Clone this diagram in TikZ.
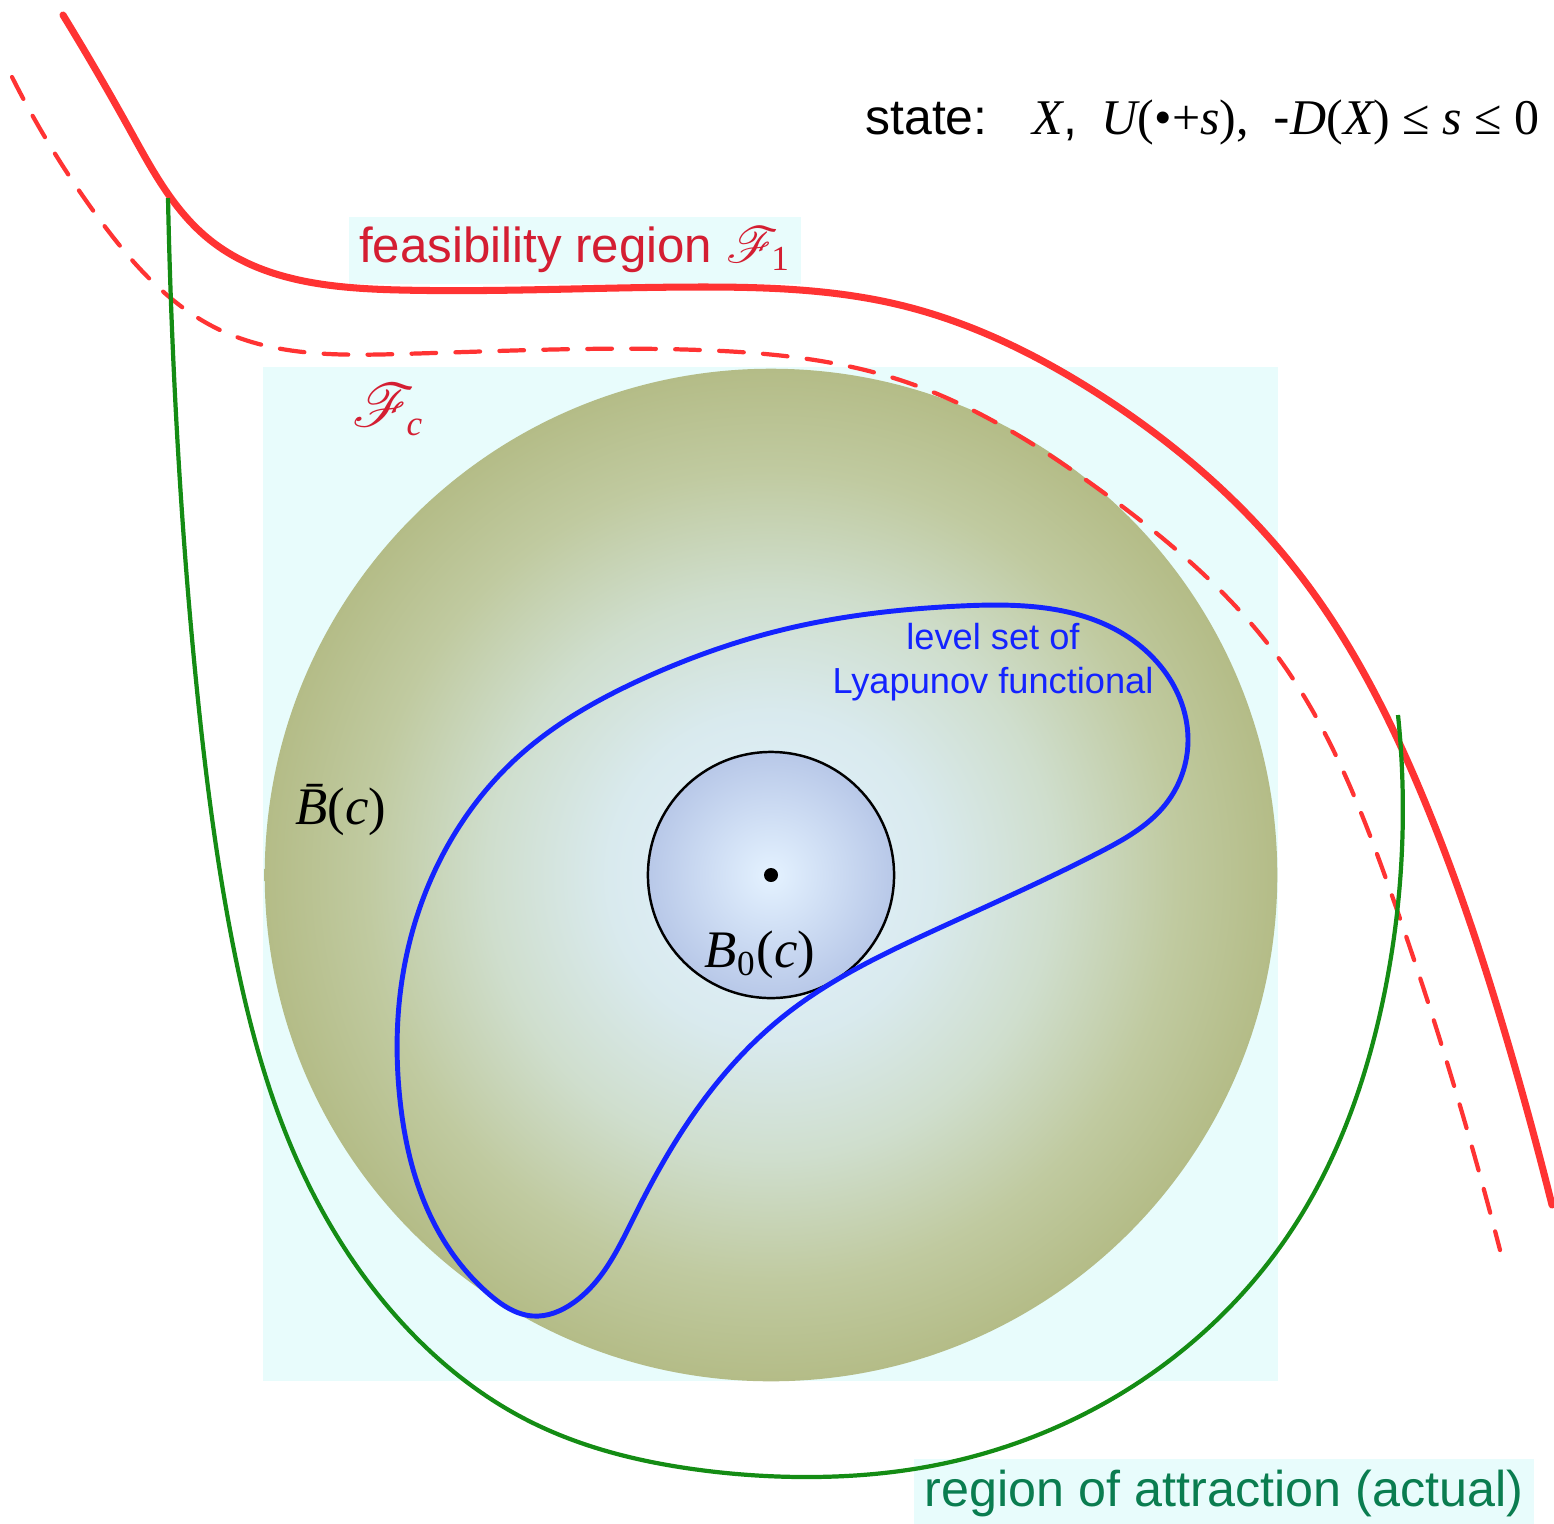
\documentclass[tikz,border=0pt]{standalone}
\usepackage{fontspec}
\usepackage{mathrsfs}
\setmainfont{Liberation Sans}
\newfontfamily\tmsfont{Liberation Serif}
\usetikzlibrary{positioning,hobby}
\definecolor{feasred}{RGB}{255,51,51}
\definecolor{feastext}{RGB}{212,30,50}
\definecolor{attrgreen}{RGB}{20,140,20}
\definecolor{attrtext}{RGB}{10,125,80}
\definecolor{lyapblue}{RGB}{20,35,255}
\definecolor{paleback}{RGB}{232,252,252}
\definecolor{ballout}{RGB}{180,188,135}
\definecolor{ballrim}{RGB}{192,202,160}
\definecolor{ballmid}{RGB}{207,222,205}
\definecolor{ballpale}{RGB}{217,234,238}
\definecolor{ballin}{RGB}{228,242,255}
\definecolor{coreout}{RGB}{184,200,232}
\definecolor{corein}{RGB}{228,242,255}
\pgfdeclareradialshading{ballshade}{\pgfpoint{0bp}{0bp}}{color(0bp)=(ballin); color(8bp)=(ballpale); color(14bp)=(ballmid); color(20bp)=(ballrim); color(25bp)=(ballout); color(50bp)=(ballout)}
\pgfdeclareradialshading{coreshade}{\pgfpoint{0bp}{0bp}}{color(0bp)=(corein); color(25bp)=(coreout); color(50bp)=(coreout)}
\newcommand\tmit[1]{{\tmsfont\itshape #1}}
\newcommand\tmup[1]{{\tmsfont #1}}
\newcommand\subsc[1]{_{\mbox{\fontsize{10}{12}\selectfont #1}}}
\tikzset{
  feasline/.style={line width=2pt,feasred,line cap=round},
  feasdash/.style={line width=1.2pt,feasred,line cap=round,dash pattern=on 7pt off 5.5pt},
  attrline/.style={line width=1.2pt,attrgreen},
  lyapline/.style={line width=1.4pt,lyapblue},
  boxlabel/.style={fill=paleback,inner sep=3pt}
}

\begin{document}
\begin{tikzpicture}[x=0.01cm,y=-0.01cm]
  \useasboundingbox (0,0) rectangle (1554,1523);
  % pale backdrop and the two balls
  \fill[paleback] (263,367) rectangle (1278,1381);
  \coordinate (origin) at (771,875);
  \shade[shading=ballshade] (origin) circle[radius=5.06cm];
  \shade[shading=coreshade,draw=black,line width=0.7pt] (origin) circle[radius=1.23cm];
  \fill[black] (origin) circle[radius=0.07cm];
  % labels with pale boxes
  \node[boxlabel,text=feastext,font=\fontsize{14}{16}\selectfont] (feaslbl) at (575,250) {feasibility region $\mathscr{F}\subsc{\tmup{1}}$};
  \node[boxlabel,text=attrtext,font=\fontsize{14.3}{16}\selectfont] (attrlbl) at (1224,1493) {region of attraction (actual)};
  % red boundaries
  \draw[feasline,use Hobby shortcut] (63,15) .. (130,130) .. (210,240) .. (400,290) .. (700,287) .. (900,305) .. (1100,395) .. (1300,575) .. (1420,790) .. (1510,1050) .. (1552,1205);
  \draw[feasdash,use Hobby shortcut] (12,77) .. (100,220) .. (220,330) .. (400,354) .. (700,350) .. (900,380) .. (1100,490) .. (1280,660) .. (1390,890) .. (1470,1140) .. (1500,1250);
  % actual region of attraction
  \coordinate (attrstart) at (168,198);
  \coordinate (attrend) at (1398,715);
  \draw[attrline,use Hobby shortcut] (attrstart) .. (178,450) .. (198,700) .. (232,940) .. (297,1160) .. (395,1315) .. (527,1420) .. (700,1470) .. (810,1477) .. (920,1468) .. (1130,1388) .. (1295,1225) .. (1383,1000) .. (attrend);
  % level set
  \draw[lyapline,use Hobby shortcut,closed=true] (785,1015) .. (700,1105) .. (635,1215) .. (573,1303) .. (533,1316) .. (490,1295) .. (430,1215) .. (400,1100) .. (402,980) .. (440,860) .. (520,755) .. (640,680) .. (790,628) .. (960,606) .. (1125,635) .. (1188,740) .. (1165,805) .. (1100,852) .. (935,930);
  % remaining labels
  \node[text=feastext,font=\fontsize{16}{18}\selectfont] (fclbl) at (388,410) {$\mathscr{F}\subsc{\tmit{c}}$};
  \node[font=\fontsize{15}{17}\selectfont] (bbarlbl) at (341,810) {\tmit{\={B}}\tmup{(}\tmit{c}\tmup{)}};
  \node[font=\fontsize{15}{17}\selectfont] (bzerolbl) at (760,955) {\tmit{B}$\subsc{\tmup{0}}$\tmup{(}\tmit{c}\tmup{)}};
  \node[text=lyapblue,align=center,font=\fontsize{10.3}{12.3}\selectfont] (lyaplbl) at (993,662) {level set of\\Lyapunov functional};
  \node[anchor=east,inner sep=0pt,font=\fontsize{14.2}{16}\selectfont] (statelbl) at (1540,122) {state:\hspace{0.9em}\tmit{X},\enspace\tmit{U}\tmup{(•+}\tmit{s}\tmup{),}\enspace-\tmit{D}\tmup{(}\tmit{X}\tmup{) ≤ }\tmit{s}\tmup{ ≤ 0}};
\end{tikzpicture}
\end{document}
